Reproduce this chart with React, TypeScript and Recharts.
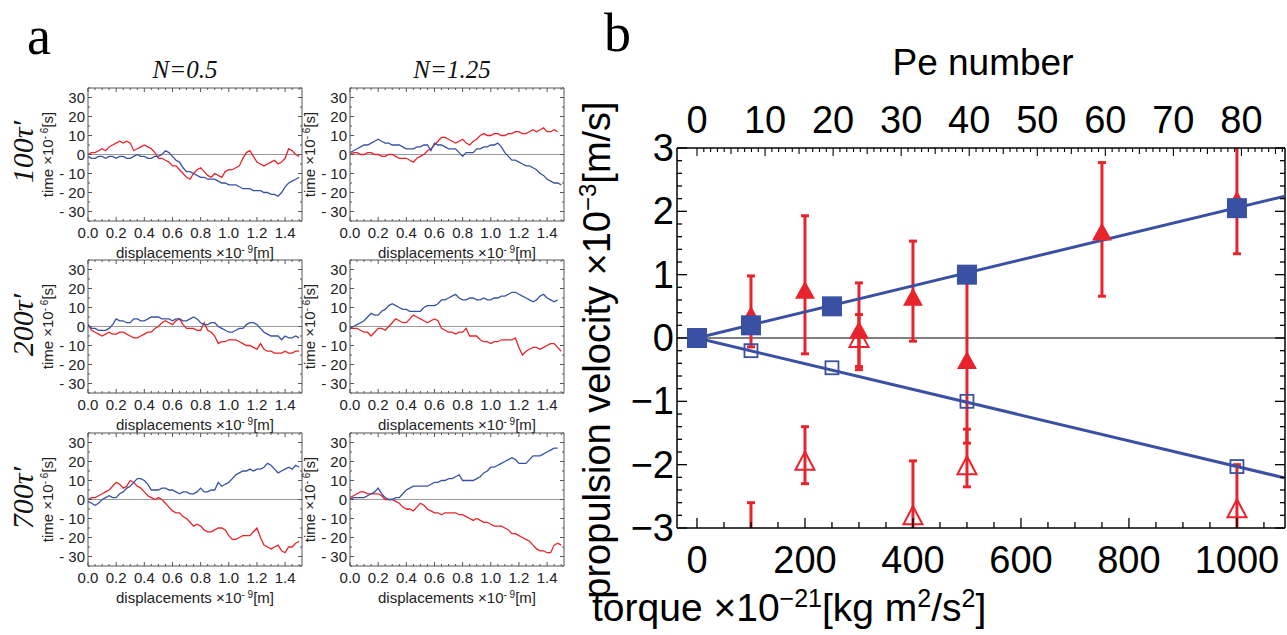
import React from 'react';
import { LineChart, Line, XAxis, YAxis, ReferenceLine, ComposedChart, Scatter, ErrorBar } from 'recharts';

const RED = '#e8232b';
const BLUE = '#3a51a3';
const SANS = '"Liberation Sans", Arial, Helvetica, sans-serif';
const SERIF = '"Liberation Serif", "Times New Roman", serif';

// ---- panel a: random walks (displacement x1e-9 m vs time x1e-6 s)
const dispX = [
  0, 0.025, 0.05, 0.075, 0.1, 0.125, 0.15, 0.175, 0.2, 0.225, 0.25, 0.275, 0.3, 0.325, 0.35, 0.375,
  0.4, 0.425, 0.45, 0.475, 0.5, 0.525, 0.55, 0.575, 0.6, 0.625, 0.65, 0.675, 0.7, 0.725, 0.75, 0.775,
  0.8, 0.825, 0.85, 0.875, 0.9, 0.925, 0.95, 0.975, 1.0, 1.025, 1.05, 1.075, 1.1, 1.125, 1.15, 1.175,
  1.2, 1.225, 1.25, 1.275, 1.3, 1.325, 1.35, 1.375, 1.4, 1.425, 1.45, 1.475, 1.5,
];
const dispTicks = [0, 0.2, 0.4, 0.6, 0.8, 1.0, 1.2, 1.4];
const timeTicks = [-30, -20, -10, 0, 10, 20, 30];

// N=0.5, 100τ'
const red100a = [0, 1, 1, 2, 3, 2, 4, 5, 6, 7, 6, 7, 6, 2, 3, 4, 5, 4, 3, 1, -2, -2, -3, -4, -6, -6, -8, -10, -12, -13, -10, -8, -7, -9, -11, -12, -10, -11, -12, -9, -8, -8, -7, -6, -2, 1, 2, -1, -4, -5, -6, -5, -4, -3, -5, -4, -2, 3, 2, 0, -1];
const blue100a = [-1, -2, -2, -1, -1, -2, -1, -1, -2, -1, -1, -2, -2, -1, 0, -1, -1, -2, -2, -1, -1, 0, 2, 1, -1, -3, -4, -7, -9, -9, -10, -11, -12, -12, -13, -13, -13, -14, -15, -15, -16, -16, -16, -17, -18, -18, -18, -19, -19, -19, -20, -20, -21, -21, -22, -20, -17, -15, -14, -13, -12];
// N=1.25, 100τ'
const red100b = [0, 1, 1, 0, 0, 1, 1, 0, 0, -1, -1, 0, 0, -1, -2, -2, -2, -3, -4, -2, -1, 0, 2, 3, 5, 7, 9, 9, 8, 7, 6, 7, 8, 6, 5, 7, 8, 10, 11, 10, 10, 11, 11, 10, 10, 11, 11, 12, 12, 11, 11, 12, 13, 12, 13, 14, 12, 12, 13, 12, null];
const blue100b = [1, 2, 3, 4, 5, 5, 6, 7, 8, 7, 6, 6, 5, 5, 5, 4, 3, 3, 3, 4, 4, 5, 5, 2, 6, 5, 5, 4, 3, 3, 3, 1, -1, 1, 1, 1, 3, 3, 4, 4, 5, 5, 6, 4, 1, -1, -3, -3, -4, -5, -6, -6, -7, -8, -10, -11, -13, -14, -15, -15, -16];
// N=0.5, 200τ'
const red200a = [1, -2, -3, -4, -5, -4, -3, -4, -4, -3, -3, -4, -5, -6, -6, -5, -4, -3, -3, -1, 0, 2, 3, 2, 1, 3, 4, 1, -1, -1, -1, -2, -2, 2, -2, -3, -5, -9, -8, -8, -7, -7, -7, -8, -9, -10, -10, -11, -12, -9, -12, -13, -13, -14, -14, -14, -13, -14, -14, -13, -13];
const blue200a = [1, -1, -1, -2, -2, -2, -1, 1, 4, 3, 3, 2, 2, 4, 4, 3, 3, 4, 5, 5, 5, 4, 4, 4, 3, 4, 4, 3, 3, 4, 5, 4, 2, 1, 1, 2, 2, 0, -1, -2, -3, -3, -2, -1, -1, 1, 2, 2, 1, -1, -3, -4, -5, -5, -5, -7, -5, -6, -6, -5, -6];
// N=1.25, 200τ'
const red200b = [-1, -1, -1, -2, -3, -3, -5, -3, -1, -1, -2, 0, 2, 4, 3, 2, 2, 4, 6, 5, 4, 3, 2, 3, 4, 3, -1, -2, -3, -3, -4, -3, -3, -1, -5, -5, -5, -7, -8, -8, -9, -8, -8, -7, -7, -7, -7, -6, -11, -15, -13, -12, -11, -11, -12, -11, -10, -9, -9, -11, -13];
const blue200b = [-1, 0, 1, 2, 3, 5, 7, 6, 6, 8, 9, 11, 12, 11, 10, 9, 9, 8, 8, 8, 8, 10, 11, 11, 11, 12, 14, 14, 15, 16, 17, 15, 14, 14, 15, 15, 14, 14, 15, 14, 14, 15, 15, 16, 16, 17, 18, 18, 17, 16, 15, 14, 13, 14, 16, 17, 15, 14, 13, 14, null];
// N=0.5, 700τ'
const red700a = [0, 1, 1, 2, 3, 4, 5, 7, 9, 8, 6, 7, 10, 9, 7, 6, 4, 2, 1, 0, 1, 0, -2, -4, -6, -7, -7, -9, -10, -12, -14, -13, -14, -16, -17, -17, -16, -15, -15, -16, -19, -21, -21, -20, -19, -19, -19, -17, -15, -20, -24, -25, -26, -25, -24, -27, -28, -25, -25, -23, -22];
const blue700a = [-1, -2, -3, -2, 0, 1, 2, 1, 1, 3, 4, 6, 7, 9, 11, 11, 10, 8, 5, 5, 5, 6, 6, 5, 5, 4, 3, 4, 4, 3, 3, 4, 6, 4, 4, 5, 5, 9, 7, 8, 9, 11, 13, 14, 15, 15, 16, 15, 16, 16, 17, 19, 18, 16, 14, 15, 16, 17, 16, 18, 17];
// N=1.25, 700τ'
const red700b = [1, 2, 3, 4, 4, 3, 3, 3, 3, 2, 0, 0, 0, -1, -2, -4, -5, -5, -6, -4, -2, -3, -5, -6, -7, -7, -8, -7, -7, -7, -7, -8, -8, -9, -10, -11, -10, -11, -12, -12, -13, -14, -14, -14, -15, -16, -18, -18, -19, -20, -21, -22, -24, -26, -27, -27, -28, -28, -24, -23, -24];
const blue700b = [0, 1, 1, 1, 1, 2, 3, 4, 6, 3, 1, 0, 0, 1, 1, 3, 5, 6, 7, 7, 7, 7, 7, 8, 9, 9, 10, 10, 11, 11, 12, 13, 10, 10, 10, 10, 11, 12, 14, 15, 17, 17, 18, 19, 20, 21, 22, 21, 19, 19, 19, 21, 23, 23, 23, 24, 25, 26, 27, 27, null];

// ---- panel b: propulsion velocity x1e-3 m/s vs torque x1e-21
const torqueTicks = [0, 200, 400, 600, 800, 1000];
const peTicks = [0, 10, 20, 30, 40, 50, 60, 70, 80];
const velTicks = [-3, -2, -1, 0, 1, 2, 3];

const squareFilled = [
  { t: 0, v: 0 }, { t: 100, v: 0.2 }, { t: 250, v: 0.5 }, { t: 500, v: 1.0 }, { t: 1000, v: 2.05 },
];
const squareOpen = [
  { t: 100, v: -0.2 }, { t: 250, v: -0.47 }, { t: 500, v: -1.0 }, { t: 1000, v: -2.03 },
];
// e = [down, up] error
const triFilled = [
  { t: 100, v: 0.33, e: [0.47, 0.65] },
  { t: 200, v: 0.73, e: [0.98, 1.2] },
  { t: 300, v: 0.1, e: [0.55, 0.77] },
  { t: 400, v: 0.62, e: [0.67, 0.91] },
  { t: 500, v: -0.38, e: [1.28, 1.33] },
  { t: 750, v: 1.65, e: [0.99, 1.12] },
  { t: 1000, v: 2.15, e: [0.82, 1.0] },
];
const triOpen = [
  { t: 100, v: -3.3, e: [0.3, 0.7] },
  { t: 200, v: -1.97, e: [0.33, 0.57] },
  { t: 300, v: -0.03, e: [0.47, 0.4] },
  { t: 400, v: -2.83, e: [0.4, 0.89] },
  { t: 500, v: -2.04, e: [0.31, 0.6] },
  { t: 1000, v: -2.72, e: [0.5, 0.72] },
];
const fitUp = [{ t: 0, v: 0 }, { t: 1089, v: 2.24 }];
const fitDown = [{ t: 0, v: 0 }, { t: 1089, v: -2.21 }];
const peAnchor = [{ pe: 0, v: 0 }];

// minor tick helpers (styling only)
const steps = (a: number, b: number, s: number) => {
  const out: number[] = [];
  for (let i = 0; a + i * s <= b + 1e-9; i++) out.push(Math.round((a + i * s) * 1000) / 1000);
  return out;
};
const near = (v: number, list: number[]) => list.some((u) => Math.abs(u - v) < 1e-6);

// ---------- small panel ticks
const SW = 290, SH = 190, PL = 62, PT = 8, PW = 214, PH = 133;
const FRAME = '#555';

const sXTick = (p: any) => {
  const v = p.payload.value;
  const major = near(v, dispTicks);
  return (
    <g>
      <line x1={p.x} x2={p.x} y1={p.y} y2={p.y - (major ? 4 : 2)} stroke={FRAME} />
      {major && (
        <text x={p.x} y={p.y + 17} textAnchor="middle" fontSize={15} fontFamily={SANS} fill="#222">
          {v.toFixed(1)}
        </text>
      )}
    </g>
  );
};
const sTopTick = (p: any) => {
  const major = near(p.payload.value, dispTicks);
  return <line x1={p.x} x2={p.x} y1={p.y} y2={p.y + (major ? 4 : 2)} stroke={FRAME} />;
};
const sYTick = (p: any) => {
  const v = p.payload.value;
  const major = near(v, timeTicks);
  return (
    <g>
      <line x1={p.x} x2={p.x + (major ? 4 : 2)} y1={p.y} y2={p.y} stroke={FRAME} />
      {major && (
        <text x={p.x - 3} y={p.y + 5} textAnchor="end" fontSize={15} fontFamily={SANS} fill="#222">
          {v < 0 ? `- ${-v}` : `${v}`}
        </text>
      )}
    </g>
  );
};
const sRightTick = (p: any) => {
  const major = near(p.payload.value, timeTicks);
  return <line x1={p.x} x2={p.x - (major ? 4 : 2)} y1={p.y} y2={p.y} stroke={FRAME} />;
};

const SmallPanel = ({ left, top, red, blue }: { left: number; top: number; red: (number | null)[]; blue: (number | null)[] }) => {
  const data = dispX.map((x, i) => ({ x, r: red[i], b: blue[i] }));
  const xAll = steps(0, 1.5, 0.05);
  const yAll = steps(-35, 35, 5);
  return (
    <div style={{ position: 'absolute', left, top }}>
      <LineChart width={SW} height={SH} data={data} margin={{ top: PT - 1, right: SW - PL - PW - 1, bottom: 0, left: 0 }}>
        <XAxis
          xAxisId="b" dataKey="x" type="number" domain={[0, 1.52]} allowDataOverflow
          ticks={xAll} interval={0} tickSize={0} tickMargin={0} tickLine={false}
          height={SH - PT - PH} stroke={FRAME} tick={sXTick}
          label={() => (
            <text x={PL + PW / 2} y={PT + PH + 37} textAnchor="middle" fontSize={15} fontFamily={SANS} fill="#222">
              displacements ×10<tspan fontSize={10} dy={-5}>- 9</tspan><tspan dy={5}>[m]</tspan>
            </text>
          )}
        />
        <XAxis
          xAxisId="t" orientation="top" dataKey="x" type="number" domain={[0, 1.52]} allowDataOverflow
          ticks={xAll} interval={0} tickSize={0} tickMargin={0} tickLine={false}
          height={1} stroke={FRAME} tick={sTopTick}
        />
        <YAxis
          yAxisId="l" type="number" domain={[-35, 35]} allowDataOverflow
          ticks={yAll} interval={0} tickSize={0} tickMargin={0} tickLine={false}
          width={PL} stroke={FRAME} tick={sYTick}
          label={() => (
            <text
              x={PL - 35} y={PT + PH / 2} textAnchor="middle" fontSize={15} fontFamily={SANS} fill="#222"
              transform={`rotate(-90 ${PL - 35} ${PT + PH / 2})`}
            >
              time ×10<tspan fontSize={10} dy={-5}>- 6</tspan><tspan dy={5}>[s]</tspan>
            </text>
          )}
        />
        <YAxis
          yAxisId="r" orientation="right" type="number" domain={[-35, 35]} allowDataOverflow
          ticks={yAll} interval={0} tickSize={0} tickMargin={0} tickLine={false}
          width={1} stroke={FRAME} tick={sRightTick}
        />
        <ReferenceLine xAxisId="b" yAxisId="l" y={0} stroke="#9a9a9a" strokeWidth={1} />
        {/* keeps the mirrored frame axes alive */}
        <Line xAxisId="t" yAxisId="r" type="linear" dataKey="b" stroke="none" dot={false} activeDot={false} legendType="none" isAnimationActive={false} />
        <Line xAxisId="b" yAxisId="l" type="linear" dataKey="r" stroke={RED} strokeWidth={1.3} dot={false} isAnimationActive={false} />
        <Line xAxisId="b" yAxisId="l" type="linear" dataKey="b" stroke={BLUE} strokeWidth={1.3} dot={false} isAnimationActive={false} />
      </LineChart>
    </div>
  );
};

// ---------- big panel
const BW = 727, BH = 635;
const B_LEFT = 117, B_TOP = 148, B_RIGHT = 2, B_BOTTOM_PLOT = 528;

const bBottomTick = (p: any) => {
  const v = p.payload.value;
  const major = near(v, torqueTicks);
  return (
    <g>
      <line x1={p.x} x2={p.x} y1={p.y} y2={p.y - (major ? 10 : 6)} stroke="#000" strokeWidth={1.3} />
      {major && (
        <text x={p.x} y={p.y + 45} textAnchor="middle" fontSize={38} fontFamily={SANS} fill="#000">
          {v}
        </text>
      )}
    </g>
  );
};
const bTopTick = (p: any) => {
  const v = p.payload.value;
  const major = near(v, peTicks);
  const len = major ? 8 : Math.round(v) % 5 === 0 ? 6 : 4;
  return (
    <g>
      <line x1={p.x} x2={p.x} y1={p.y} y2={p.y + len} stroke="#000" strokeWidth={1.1} />
      {major && (
        <text x={p.x} y={p.y - 15} textAnchor="middle" fontSize={38} fontFamily={SANS} fill="#000">
          {v}
        </text>
      )}
    </g>
  );
};
const bLeftTick = (p: any) => {
  const v = p.payload.value;
  const major = near(v, velTicks);
  return (
    <g>
      <line x1={p.x} x2={p.x + (major ? 10 : 5)} y1={p.y} y2={p.y} stroke="#000" strokeWidth={1.3} />
      {major && (
        <text x={p.x - 3} y={p.y + 13} textAnchor="end" fontSize={38} fontFamily={SANS} fill="#000">
          {v < 0 ? `\u2212${-v}` : `${v}`}
        </text>
      )}
    </g>
  );
};
const bRightTick = (p: any) => {
  const major = near(p.payload.value, velTicks);
  return <line x1={p.x} x2={p.x - (major ? 10 : 5)} y1={p.y} y2={p.y} stroke="#000" strokeWidth={1.3} />;
};

const FilledSquare = (p: any) => <rect x={p.cx - 10} y={p.cy - 10} width={20} height={20} fill={BLUE} />;
const OpenSquare = (p: any) => (
  <rect x={p.cx - 6.5} y={p.cy - 6.5} width={13} height={13} fill="none" stroke={BLUE} strokeWidth={1.8} />
);
const FilledTri = (p: any) => (
  <polygon points={`${p.cx},${p.cy - 11} ${p.cx - 10},${p.cy + 7} ${p.cx + 10},${p.cy + 7}`} fill={RED} />
);
const OpenTri = (p: any) => (
  <polygon
    points={`${p.cx},${p.cy - 11} ${p.cx - 9.5},${p.cy + 7} ${p.cx + 9.5},${p.cy + 7}`}
    fill="none" stroke={RED} strokeWidth={2}
  />
);
const NoMark = () => <g />;

const BigPanel = () => (
  <div style={{ position: 'absolute', left: 560, top: 0 }}>
    <svg width={0} height={0} style={{ position: 'absolute' }}>
      <defs>
        <clipPath id="bPlotClip">
          <rect x={B_LEFT} y={B_TOP} width={BW - B_LEFT - B_RIGHT} height={B_BOTTOM_PLOT - B_TOP} />
        </clipPath>
      </defs>
    </svg>
    <ComposedChart
      width={BW} height={BH}
      margin={{ top: B_TOP - 60, right: B_RIGHT - 1, bottom: BH - B_BOTTOM_PLOT - 80, left: B_LEFT - 80 }}
    >
      <XAxis
        xAxisId="tq" dataKey="t" type="number" domain={[-37, 1089]} allowDataOverflow
        ticks={steps(0, 1050, 50)} interval={0} tickSize={0} tickMargin={0} tickLine={false}
        height={80} stroke="#000" strokeWidth={1.5} tick={bBottomTick}
        label={() => (
          <text x={32} y={621} textAnchor="start" fontSize={39} fontFamily={SANS} fill="#000">
            torque ×10<tspan fontSize={25} dy={-14}>{'\u221221'}</tspan>
            <tspan dy={14}>[kg m</tspan><tspan fontSize={25} dy={-14}>2</tspan>
            <tspan dy={14}>/s</tspan><tspan fontSize={25} dy={-14}>2</tspan><tspan dy={14}>]</tspan>
          </text>
        )}
      />
      <XAxis
        xAxisId="pe" dataKey="pe" orientation="top" type="number" domain={[-2.94, 86.4]} allowDataOverflow
        ticks={steps(0, 86, 1)} interval={0} tickSize={0} tickMargin={0} tickLine={false}
        height={60} stroke="#000" strokeWidth={1.5} tick={bTopTick}
        label={() => (
          <text x={423} y={75} textAnchor="middle" fontSize={37} fontFamily={SANS} fill="#000">
            Pe number
          </text>
        )}
      />
      <YAxis
        yAxisId="v" dataKey="v" type="number" domain={[-3, 3]} allowDataOverflow
        ticks={steps(-3, 3, 0.2)} interval={0} tickSize={0} tickMargin={0} tickLine={false}
        width={80} stroke="#000" strokeWidth={1.5} tick={bLeftTick}
        label={() => (
          <text
            x={50} y={350} textAnchor="middle" fontSize={38} fontFamily={SANS} fill="#000"
            transform="rotate(-90 50 350)"
          >
            propulsion velocity ×10<tspan fontSize={24} dy={-14}>{'\u22123'}</tspan>
            <tspan dy={14}>[m/s]</tspan>
          </text>
        )}
      />
      <YAxis
        yAxisId="vr" dataKey="v" orientation="right" type="number" domain={[-3, 3]} allowDataOverflow
        ticks={steps(-3, 3, 0.2)} interval={0} tickSize={0} tickMargin={0} tickLine={false}
        width={1} stroke="#000" strokeWidth={1.5} tick={bRightTick}
      />
      <ReferenceLine xAxisId="tq" yAxisId="v" y={0} stroke="#000" strokeWidth={1} />
      {/* keeps the Pe / right frame axes alive */}
      <Scatter xAxisId="pe" yAxisId="vr" data={peAnchor} shape={NoMark} legendType="none" isAnimationActive={false} />
      <Scatter xAxisId="tq" yAxisId="v" data={fitUp} line={{ stroke: BLUE, strokeWidth: 3 }} shape={NoMark} isAnimationActive={false} />
      <Scatter xAxisId="tq" yAxisId="v" data={fitDown} line={{ stroke: BLUE, strokeWidth: 3 }} shape={NoMark} isAnimationActive={false} />
      <Scatter xAxisId="tq" yAxisId="v" data={squareOpen} shape={OpenSquare} isAnimationActive={false} />
      <Scatter xAxisId="tq" yAxisId="v" data={triOpen} shape={OpenTri} isAnimationActive={false}>
        <ErrorBar dataKey="e" direction="y" width={4} strokeWidth={3} stroke={RED} clipPath="url(#bPlotClip)" isAnimationActive={false} />
      </Scatter>
      <Scatter xAxisId="tq" yAxisId="v" data={triFilled} shape={FilledTri} isAnimationActive={false}>
        <ErrorBar dataKey="e" direction="y" width={4} strokeWidth={3} stroke={RED} clipPath="url(#bPlotClip)" isAnimationActive={false} />
      </Scatter>
      <Scatter xAxisId="tq" yAxisId="v" data={squareFilled} shape={FilledSquare} isAnimationActive={false} />
    </ComposedChart>
  </div>
);

const Overlay = () => (
  <svg width={1287} height={635} style={{ position: 'absolute', left: 0, top: 0, pointerEvents: 'none' }}>
    <text x={27} y={54} fontSize={54} fontFamily={SERIF} fill="#000">a</text>
    <text x={604} y={51} fontSize={54} fontFamily={SERIF} fill="#000">b</text>
    <text x={185} y={78} textAnchor="middle" fontSize={25} fontStyle="italic" fontFamily={SERIF} fill="#111">N=0.5</text>
    <text x={452} y={78} textAnchor="middle" fontSize={25} fontStyle="italic" fontFamily={SERIF} fill="#111">N=1.25</text>
    {[
      ['100\u03c4\u2032', 152],
      ['200\u03c4\u2032', 325],
      ['700\u03c4\u2032', 498],
    ].map(([s, y]) => (
      <text
        key={s as string} x={33} y={y as number} textAnchor="middle" fontSize={30} fontStyle="italic"
        fontFamily={SERIF} fill="#111" transform={`rotate(-90 33 ${y})`}
      >
        {s}
      </text>
    ))}
  </svg>
);

export default function App() {
  return (
    <div style={{ position: 'absolute', left: 0, top: 0, width: 1287, height: 635, background: '#fff', overflow: 'hidden' }}>
      <SmallPanel left={26} top={80} red={red100a} blue={blue100a} />
      <SmallPanel left={288} top={80} red={red100b} blue={blue100b} />
      <SmallPanel left={26} top={252} red={red200a} blue={blue200a} />
      <SmallPanel left={288} top={252} red={red200b} blue={blue200b} />
      <SmallPanel left={26} top={425} red={red700a} blue={blue700a} />
      <SmallPanel left={288} top={425} red={red700b} blue={blue700b} />
      <BigPanel />
      <Overlay />
    </div>
  );
}
